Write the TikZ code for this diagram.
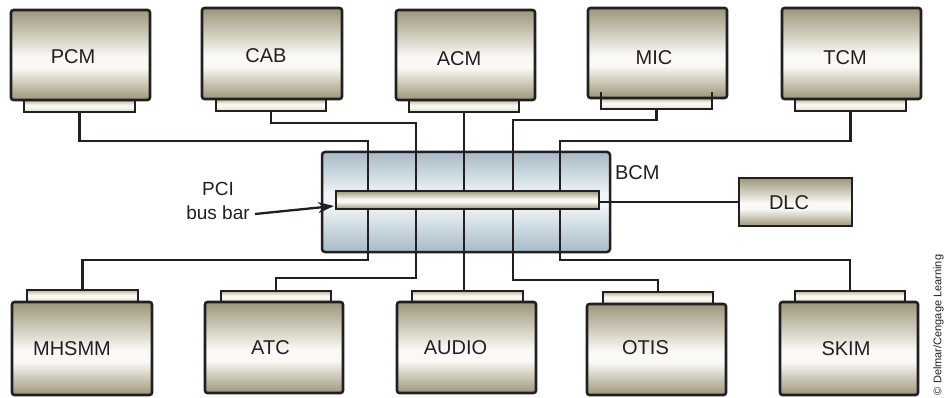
\documentclass[tikz,border=0pt]{standalone}
\usepackage{fontspec}
\setmainfont{Liberation Sans}
\usetikzlibrary{arrows.meta}
\definecolor{modtan}{RGB}{156,150,122}
\definecolor{modlight}{RGB}{250,249,245}
\definecolor{tabtop}{RGB}{184,178,150}
\definecolor{tabmid}{RGB}{248,247,241}
\definecolor{tabbot}{RGB}{220,216,198}
\definecolor{bcmblue}{RGB}{166,186,198}
\definecolor{bcmlight}{RGB}{240,245,248}
\definecolor{ink}{RGB}{35,31,32}
\pgfdeclareverticalshading{modshade}{100bp}{color(0bp)=(modtan); color(25bp)=(modtan); color(43bp)=(modlight); color(49bp)=(modlight); color(75bp)=(modtan); color(100bp)=(modtan)}
\pgfdeclareverticalshading{tabshade}{100bp}{color(0bp)=(tabbot); color(25bp)=(tabbot); color(45bp)=(tabmid); color(55bp)=(tabmid); color(75bp)=(tabtop); color(100bp)=(tabtop)}
\pgfdeclareverticalshading{bcmshade}{100bp}{color(0bp)=(bcmblue); color(25bp)=(bcmblue); color(48bp)=(bcmlight); color(54bp)=(bcmlight); color(75bp)=(bcmblue); color(100bp)=(bcmblue)}
\pgfdeclareverticalshading{barshade}{100bp}{color(0bp)=(modtan); color(25bp)=(modtan); color(45bp)=(modlight); color(52bp)=(modlight); color(75bp)=(modtan); color(100bp)=(modtan)}
\begin{document}
\begin{tikzpicture}[x=1pt,y=-1pt,
  every node/.style={font=\fontsize{20}{24}\selectfont, text=ink, inner sep=0pt, outer sep=0pt},
  every label/.style={font=\fontsize{20}{24}\selectfont, text=ink, inner sep=0pt},
  module/.style={draw=ink, line width=2.6pt, rounded corners=2.5pt, shade, shading=modshade},
  tabbox/.style={draw=ink, line width=2.3pt, shade, shading=tabshade},
  bcmbox/.style={draw=ink, line width=2.5pt, rounded corners=3pt, shade, shading=bcmshade},
  barbox/.style={draw=ink, line width=2.5pt, shade, shading=barshade},
  wire/.style={draw=ink, line width=2.3pt},
  pointer/.style={draw=ink, line width=2.3pt, -{Stealth[length=16pt,width=11pt]}}]
\useasboundingbox (0,0) rectangle (952,398);

% top modules
\node[tabbox, minimum width=111pt, minimum height=12pt] (pcmtab) at (79.5,106) {};
\node[module, minimum width=139pt, minimum height=90pt, label={[xshift=-7.5pt,yshift=-1.7pt]center:PCM}] (pcm) at (80.5,55) {};
\node[tabbox, minimum width=110pt, minimum height=12pt] (cabtab) at (271,105) {};
\node[module, minimum width=140pt, minimum height=91pt, label={[xshift=-6pt,yshift=-1.8pt]center:CAB}] (cab) at (272,53.5) {};
\node[tabbox, minimum width=110pt, minimum height=12pt] (acmtab) at (464,106) {};
\node[module, minimum width=139pt, minimum height=90pt, label={[xshift=-6.5pt,yshift=-4pt]center:ACM}] (acm) at (465.5,55) {};
\node[tabbox, minimum width=111pt, minimum height=11pt] (mictab) at (656.5,103.5) {};
\node[module, minimum width=139pt, minimum height=90pt, label={[xshift=-3.5pt,yshift=-5pt]center:MIC}] (mic) at (657.5,53) {};
\draw[ink, line width=2.3pt] (mictab.north west) -- ++(0,-6);
\draw[ink, line width=2.3pt] (mictab.north east) -- ++(0,-6);
\node[tabbox, minimum width=111pt, minimum height=12pt] (tcmtab) at (850.5,105) {};
\node[module, minimum width=139pt, minimum height=91pt, label={[xshift=-6.5pt,yshift=-4pt]center:TCM}] (tcm) at (851.5,53.5) {};

% bottom modules
\node[tabbox, minimum width=111pt, minimum height=12pt] (mhsmmtab) at (82.5,296) {};
\node[module, minimum width=140pt, minimum height=93pt, label={[xshift=-10pt,yshift=-0.5pt]center:MHSMM}] (mhsmm) at (82,348.5) {};
\node[tabbox, minimum width=110pt, minimum height=11pt] (atctab) at (276,296.5) {};
\node[module, minimum width=138pt, minimum height=91pt, label={[xshift=-3.5pt]center:ATC}] (atc) at (274,347.5) {};
\node[tabbox, minimum width=111pt, minimum height=11pt] (audiotab) at (467.5,296.5) {};
\node[module, minimum width=139pt, minimum height=91pt, label={[xshift=-11pt]center:AUDIO}] (audio) at (466.5,347.5) {};
\node[tabbox, minimum width=110pt, minimum height=12pt] (otistab) at (658,298) {};
\node[module, minimum width=139pt, minimum height=91pt, label={[xshift=-11pt,yshift=2pt]center:OTIS}] (otis) at (656.5,349.5) {};
\node[tabbox, minimum width=110pt, minimum height=11pt] (skimtab) at (850,296.5) {};
\node[module, minimum width=138pt, minimum height=93pt, label={[xshift=-3pt]center:SKIM}] (skim) at (849,348.5) {};

% BCM
\node[bcmbox, minimum width=288pt, minimum height=100pt] (bcm) at (466,202) {};
\node[anchor=west] (bcmlabel) at (615,173) {BCM};

% junction points
\coordinate (j1) at (368,141); \coordinate (k1) at (368,260);
\coordinate (j2) at (416,123); \coordinate (k2) at (416,278);
\coordinate (j4) at (513,120); \coordinate (k4) at (513,280);
\coordinate (j5) at (560,141); \coordinate (k5) at (560,260);

\draw[wire] (pcmtab.south) |- (j1) -- (k1) -| (mhsmmtab.north);
\draw[wire] (cabtab.south) |- (j2) -- (k2) -| (atctab.north);
\draw[wire] (acmtab.south) -- (acmtab.south |- audiotab.north);
\draw[wire] (mictab.south) |- (j4) -- (k4) -| (otistab.north);
\draw[wire] (tcmtab.south) |- (j5) -- (k5) -| (skimtab.north);

% bus bar
\node[barbox, minimum width=263pt, minimum height=18pt] (bar) at (467.5,200) {};

% DLC
\node[module, line width=2.5pt, rounded corners=0pt, minimum width=113pt, minimum height=48pt, label={[xshift=-6.5pt,yshift=-1pt]center:DLC}] (dlc) at (795.5,202) {};
\draw[wire] (bar.east |- dlc.west) -- (dlc.west);

% PCI label and arrow
\node[align=center, font=\fontsize{19}{24}\selectfont] (pcilabel) at (218,201) {PCI\\bus bar};
\coordinate (tail) at (255,214);
\draw[pointer] (tail) -- ([xshift=-2pt,yshift=-6pt]bar.west);

% credit
\node[rotate=90, anchor=west, font=\fontsize{11}{13}\selectfont] (credit) at (938.5,395) {© Delmar/Cengage Learning};
\end{tikzpicture}
\end{document}
